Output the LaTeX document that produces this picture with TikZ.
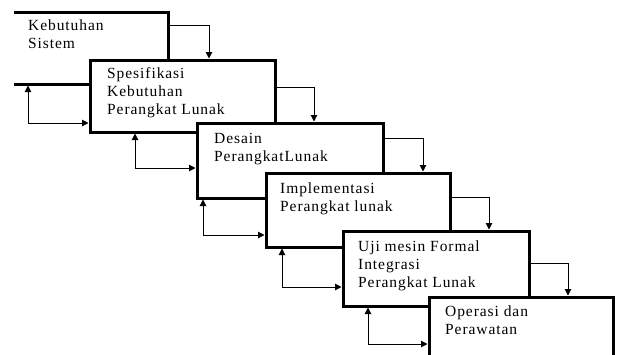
\documentclass[tikz,border=0pt]{standalone}
\usepackage{fontspec}
\setmainfont{Liberation Serif}[LetterSpace=6]
\usetikzlibrary{arrows.meta,calc}
\begin{document}
\begin{tikzpicture}[x=1pt,y=-1pt,
  box/.style={draw, line width=3pt, fill=white, rectangle, inner sep=0pt, outer sep=1.5pt, anchor=north west},
  txt/.style={anchor=north west, inner sep=0pt, align=left, font=\fontsize{15.5}{18}\selectfont},
  arr/.style={line width=1pt, -{Triangle[length=6.5pt,width=6.5pt]}},
  barr/.style={line width=1pt, {Triangle[length=6.5pt,width=6.5pt]}-{Triangle[length=6.5pt,width=6.5pt]}}]
\useasboundingbox (0,0) rectangle (619,354);
\begin{scope}
\clip (14,0) rectangle (619,354);
\node[box, minimum width=163pt, minimum height=72pt] (b1) at (3.5,10.5) {};
\node[txt] (t1) at ($(b1.north west)+(24.5,6.9)$) {\strut Kebutuhan\\Sistem};
\node[box, minimum width=185pt, minimum height=72pt] (b2) at (88.5,58.5) {};
\node[txt] (t2) at ($(b2.north west)+(18.5,6.9)$) {\strut Spesifikasi\\Kebutuhan\\Perangkat Lunak};
\node[box, minimum width=186pt, minimum height=75pt] (b3) at (195.5,121.5) {};
\node[txt] (t3) at ($(b3.north west)+(18.5,8.9)$) {\strut Desain\\PerangkatLunak};
\node[box, minimum width=184pt, minimum height=74pt] (b4) at (264.5,171.5) {};
\node[txt] (t4) at ($(b4.north west)+(15.5,8.9)$) {\strut Implementasi\\Perangkat lunak};
\node[box, minimum width=186pt, minimum height=75pt] (b5) at (341.5,229.5) {};
\node[txt] (t5) at ($(b5.north west)+(16.5,8.9)$) {\strut Uji mesin Formal\\Integrasi\\Perangkat Lunak};
\node[box, minimum width=184pt, minimum height=75pt] (b6) at (427.5,295.5) {};
\node[txt] (t6) at ($(b6.north west)+(17.5,7.9)$) {\strut Operasi dan\\Perawatan};
\end{scope}
% forward arrows
\coordinate (f1) at (209,25);
\coordinate (f2) at (314,87);
\coordinate (f3) at (423,138);
\coordinate (f4) at (489,197);
\coordinate (f5) at (568,263);
\draw[arr] (f1 -| b1.east) -| (b2.north -| f1);
\draw[arr] (f2 -| b2.east) -| (b3.north -| f2);
\draw[arr] (f3 -| b3.east) -| (b4.north -| f3);
\draw[arr] (f4 -| b4.east) -| (b5.north -| f4);
\draw[arr] (f5 -| b5.east) -| (b6.north -| f5);
% feedback arrows
\coordinate (k1) at (28,123);
\coordinate (k2) at (135,168);
\coordinate (k3) at (203,235);
\coordinate (k4) at (282,287);
\coordinate (k5) at (368,344);
\draw[barr] (k1 |- b1.south) |- (k1 -| b2.west);
\draw[barr] (k2 |- b2.south) |- (k2 -| b3.west);
\draw[barr] (k3 |- b3.south) |- (k3 -| b4.west);
\draw[barr] (k4 |- b4.south) |- (k4 -| b5.west);
\draw[barr] (k5 |- b5.south) |- (k5 -| b6.west);
\end{tikzpicture}
\end{document}
